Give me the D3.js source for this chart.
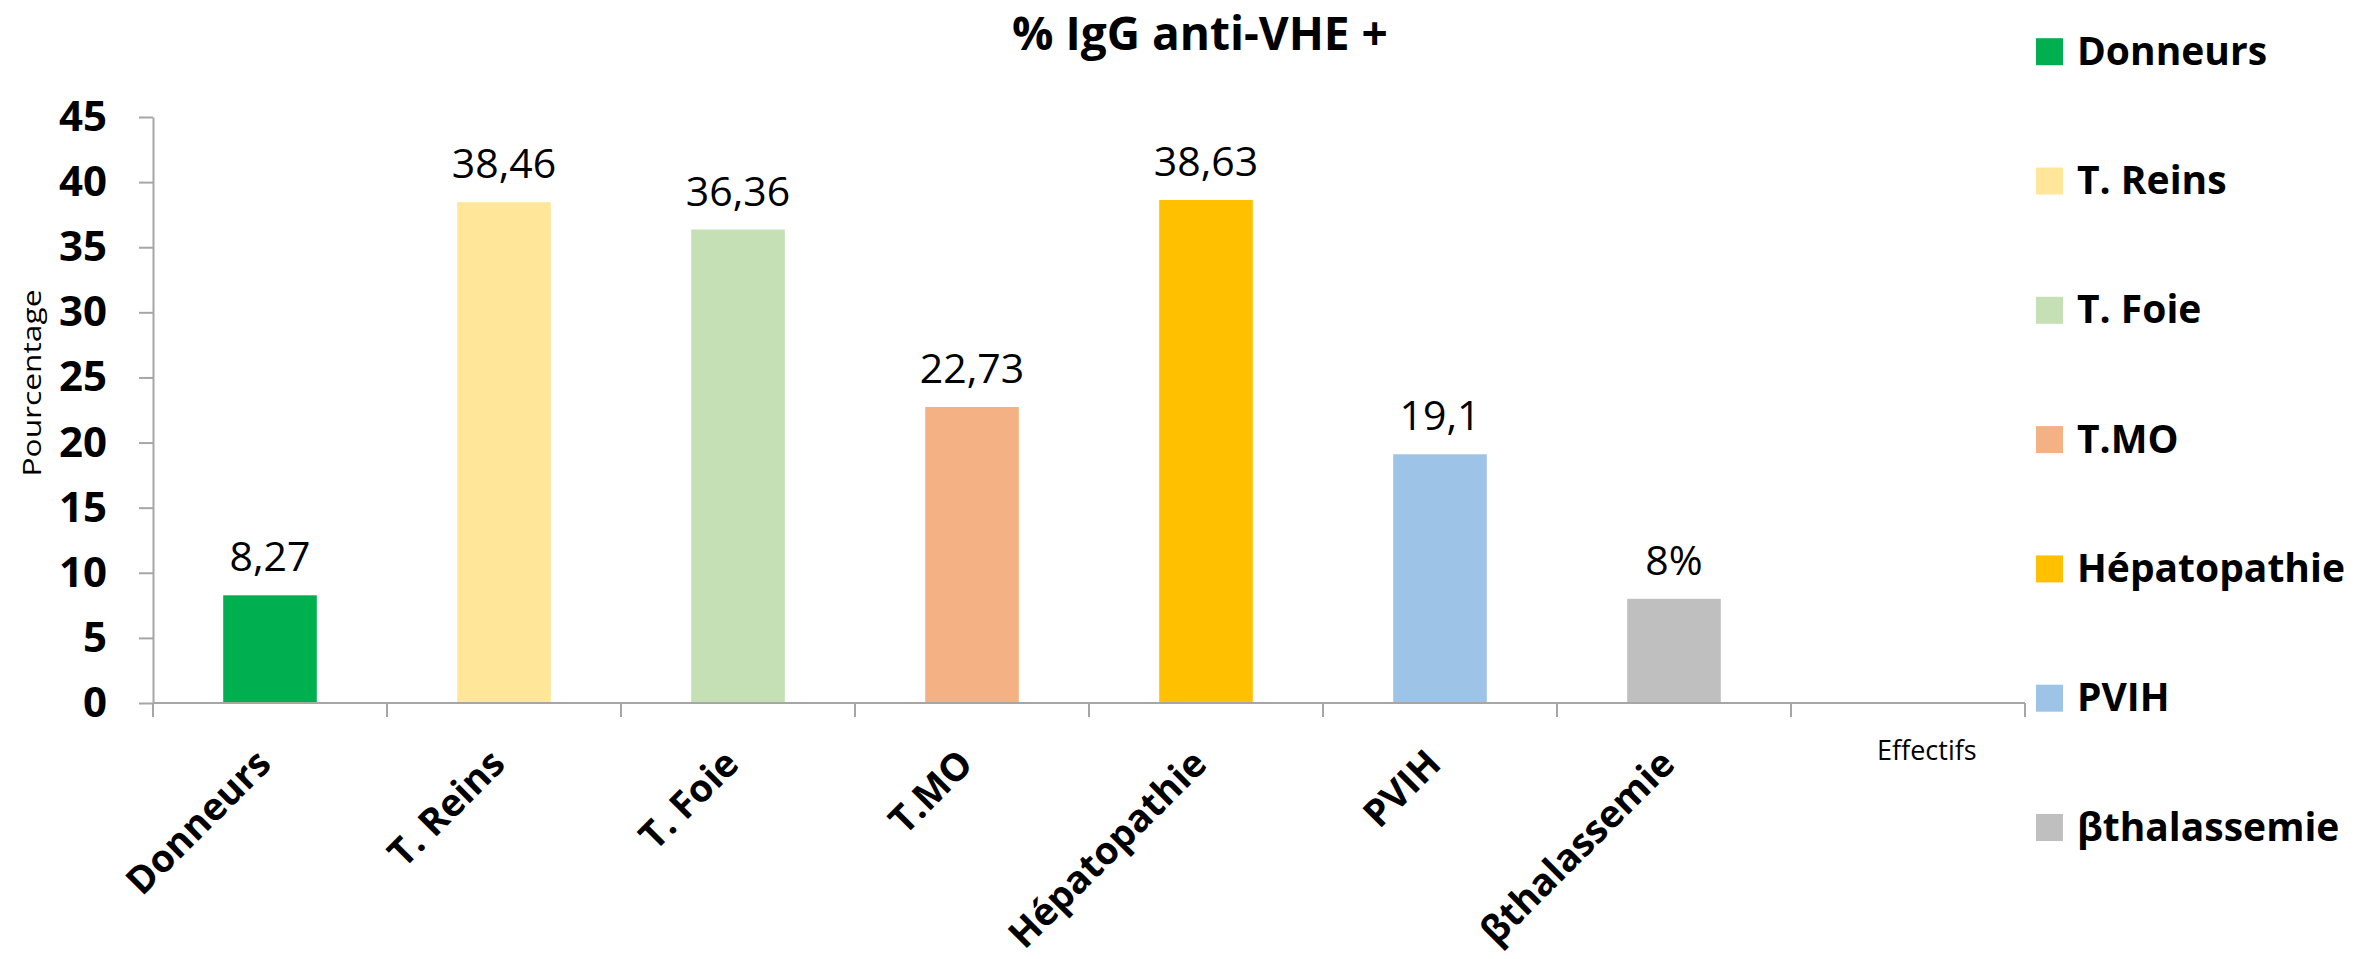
<!DOCTYPE html>
<html>
<head>
<meta charset="utf-8">
<script src="https://cdn.jsdelivr.net/npm/d3@7"></script>
<style>
  body { margin: 0; background: #fff; }
  text { font-family: "Open Sans", "Noto Sans", sans-serif; fill: #000; }
</style>
</head>
<body>
<script>
var width = 2376,
    height = 959

// data
var categories = ['Donneurs', 'T. Reins', 'T. Foie', 'T.MO', 'Hépatopathie', 'PVIH', 'βthalassemie']
var values = [8.27, 38.46, 36.36, 22.73, 38.63, 19.1, 8]
var valueLabels = ['8,27', '38,46', '36,36', '22,73', '38,63', '19,1', '8%']
var colors = ['#00B050', '#FFE699', '#C5E0B4', '#F4B183', '#FFC000', '#9DC3E6', '#BFBFBF']
var yTicks = [0, 5, 10, 15, 20, 25, 30, 35, 40, 45]

var axisColor = '#A6A6A6'

var svg = d3.select('body').append('svg')
    .attr('width', width)
    .attr('height', height)

// one empty slot after the last group, like the original sheet
var x = d3.scaleBand()
    .domain(categories.concat(['']))
    .range([153, 2025])
    .paddingInner(0.6)
    .paddingOuter(0.3)

var y = d3.scaleLinear()
    .domain([0, 45])
    .range([703, 117])

var step = x.step()
var x0 = x.range()[0]

// y axis
var yAxis = svg.append('g')
    .attr('transform', 'translate(' + x0 + ',0)')
    .call(d3.axisLeft(y).tickValues(yTicks).tickSize(14).tickSizeOuter(0).tickPadding(32))

yAxis.select('.domain').attr('stroke', axisColor).attr('stroke-width', 2)
yAxis.selectAll('.tick line').attr('stroke', axisColor).attr('stroke-width', 2)
yAxis.selectAll('.tick text')
    .style('font-size', '42px')
    .style('font-weight', 'bold')
    .style('font-family', '"Open Sans", sans-serif')
    .attr('fill', '#000')

// bars
svg.selectAll('rect.bar')
    .data(values)
    .enter()
    .append('rect')
    .attr('class', 'bar')
    .attr('x', function(d, i) { return x(categories[i]) })
    .attr('y', function(d) { return y(d) })
    .attr('width', x.bandwidth())
    .attr('height', function(d) { return y(0) - y(d) })
    .attr('fill', function(d, i) { return colors[i] })

// value labels
svg.selectAll('text.val')
    .data(values)
    .enter()
    .append('text')
    .attr('class', 'val')
    .attr('x', function(d, i) { return x(categories[i]) + x.bandwidth() / 2 })
    .attr('y', function(d) { return y(d) - 24 })
    .attr('text-anchor', 'middle')
    .style('font-size', '41px')
    .text(function(d, i) { return valueLabels[i] })

// x axis: line with ticks between groups
var nSlots = x.domain().length
svg.append('line')
    .attr('x1', x0).attr('x2', x0 + nSlots * step)
    .attr('y1', y(0)).attr('y2', y(0))
    .attr('stroke', axisColor).attr('stroke-width', 2)

svg.selectAll('line.xtick')
    .data(d3.range(nSlots + 1))
    .enter()
    .append('line')
    .attr('class', 'xtick')
    .attr('x1', function(i) { return x0 + i * step })
    .attr('x2', function(i) { return x0 + i * step })
    .attr('y1', y(0))
    .attr('y2', y(0) + 14)
    .attr('stroke', axisColor).attr('stroke-width', 2)

// rotated category labels
svg.selectAll('text.cat')
    .data(categories)
    .enter()
    .append('text')
    .attr('class', 'cat')
    .attr('text-anchor', 'end')
    .attr('transform', function(d) {
        return 'translate(' + (x(d) + x.bandwidth() / 2 + 3) + ',766) rotate(-45)'
    })
    .style('font-size', '38px')
    .style('font-weight', 'bold')
    .text(function(d) { return d })

// title and axis titles
svg.append('text')
    .attr('x', 1200)
    .attr('y', 50)
    .attr('text-anchor', 'middle')
    .style('font-size', '46px')
    .style('font-weight', 'bold')
    .text('% IgG anti-VHE +')

svg.append('text')
    .attr('transform', 'translate(41,383) rotate(-90)')
    .attr('text-anchor', 'middle')
    .attr('textLength', 187)
    .attr('lengthAdjust', 'spacingAndGlyphs')
    .style('font-size', '25px')
    .text('Pourcentage')

svg.append('text')
    .attr('x', 1877)
    .attr('y', 760)
    .style('font-size', '27px')
    .text('Effectifs')

// legend
var legend = svg.selectAll('g.leg')
    .data(categories)
    .enter()
    .append('g')
    .attr('class', 'leg')
    .attr('transform', function(d, i) { return 'translate(2036,' + (51.7 + i * 129.3) + ')' })

legend.append('rect')
    .attr('x', 0)
    .attr('y', -13.5)
    .attr('width', 27)
    .attr('height', 27)
    .attr('fill', function(d, i) { return colors[i] })

legend.append('text')
    .attr('x', 41)
    .attr('y', 13)
    .style('font-size', '39px')
    .style('font-weight', 'bold')
    .text(function(d) { return d })
</script>
</body>
</html>
